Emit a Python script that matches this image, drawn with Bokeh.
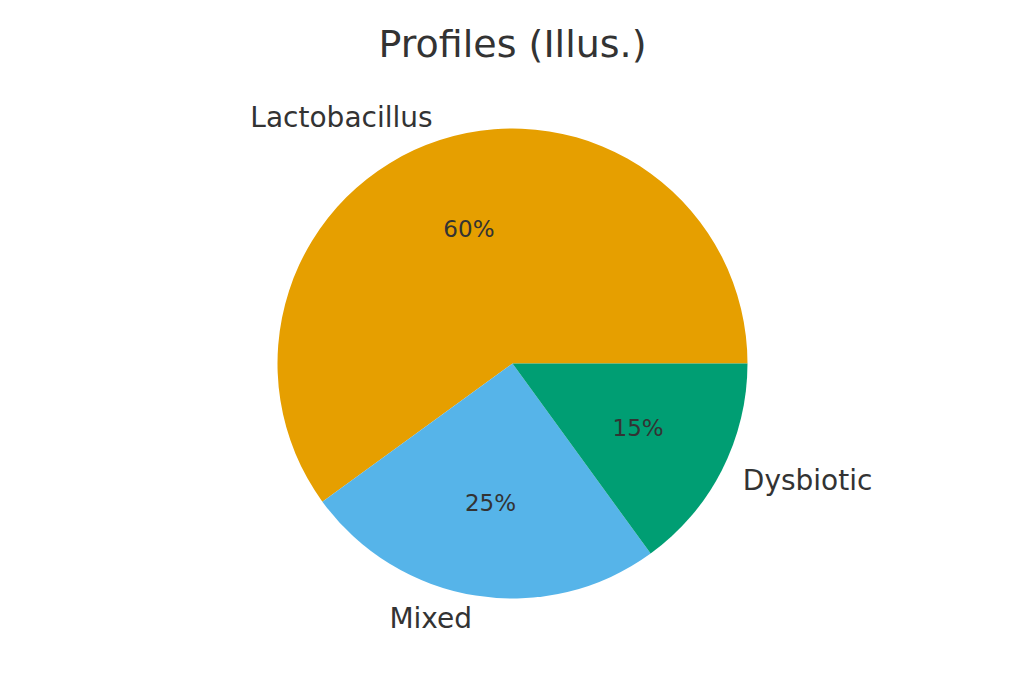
import numpy as np

from bokeh.core.properties import value
from bokeh.embed import file_html
from bokeh.models import ColumnDataSource, Range1d
from bokeh.plotting import figure
from bokeh.resources import INLINE

# data
labels = ["Lactobacillus", "Mixed", "Dysbiotic"]
shares = [60, 25, 15]
colors = ["#E69F00", "#56B4E9", "#009E73"]
title_text = "Profiles (Illus.)"

FONT = value("DejaVu Sans")
TEXT_COLOR = "#333333"

# pie geometry in page pixels (radius 1 = 235 px)
R_PX = 235.0
CX, CY = 512.0, 363.0
W, H = 1008, 667
OFF = 0  # where the canvas starts on the page

frac = np.array(shares, dtype=float) / sum(shares)
ends = np.cumsum(frac) * 2 * np.pi
starts = ends - frac * 2 * np.pi
mids = (starts + ends) / 2

source = ColumnDataSource(data=dict(
    label=labels,
    start=starts,
    end=ends,
    color=colors,
))

p = figure(
    width=W, height=H,
    x_range=Range1d((OFF - CX) / R_PX, (OFF + W - CX) / R_PX),
    y_range=Range1d((CY - (OFF + H)) / R_PX, (CY - OFF) / R_PX),
    output_backend="svg",
    toolbar_location=None,
    min_border=0,
)
p.axis.visible = False
p.grid.visible = False
p.outline_line_color = None
p.background_fill_color = "white"

p.wedge(x=0, y=0, radius=1, start_angle="start", end_angle="end",
        fill_color="color", line_color=None, source=source)

# outer labels at 1.1 r, aligned away from the centre
lx = 1.1 * np.cos(mids)
ly = 1.1 * np.sin(mids)
align = ["left" if x > 0 else "right" for x in lx]
p.text(x=lx, y=ly, text=labels, text_align=align, text_baseline="middle",
       text_font=FONT, text_font_size="28px", text_color=TEXT_COLOR)

# percentages at 0.6 r
px = 0.6 * np.cos(mids)
py = 0.6 * np.sin(mids)
pct = [f"{s:.0f}%" for s in shares]
p.text(x=px, y=py, text=pct, text_align="center", text_baseline="middle",
       text_font=FONT, text_font_size="23px", text_color=TEXT_COLOR)

# title
p.text(x=[0], y=[(CY - 43) / R_PX], text=[title_text], text_align="center",
       text_baseline="middle", text_font=FONT, text_font_size="38px",
       text_color=TEXT_COLOR)

open("out.html", "w").write(file_html(p, INLINE))
